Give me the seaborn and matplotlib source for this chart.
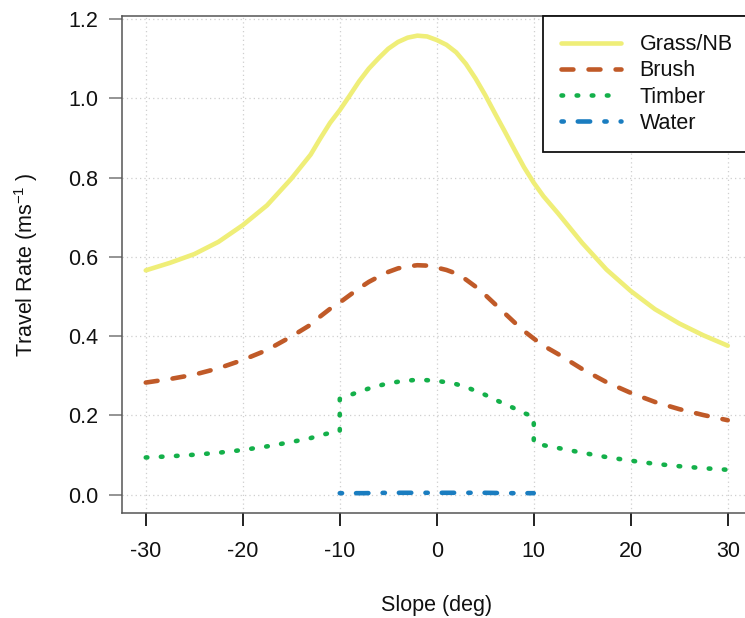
import matplotlib
matplotlib.use("Agg")
import matplotlib.pyplot as plt
import numpy as np
import pandas as pd
import seaborn as sns

# Slope (deg) sample points and travel rate (m/s) for each land cover class
slope = [-30, -27.5, -25, -22.5, -20, -17.5, -15, -13, -12, -11, -10, -9, -8, -7, -6, -5,
         -4, -3, -2, -1, 0, 1, 2, 3, 4, 5, 6, 7, 8, 9, 10, 11, 12.5, 15, 17.5, 20,
         22.5, 25, 27.5, 30]

grass = [0.566, 0.585, 0.607, 0.638, 0.680, 0.730, 0.797, 0.858, 0.899, 0.938, 0.970, 1.006,
         1.043, 1.075, 1.101, 1.125, 1.142, 1.153, 1.158, 1.156, 1.147, 1.135, 1.116, 1.087,
         1.050, 1.008, 0.962, 0.917, 0.871, 0.826, 0.787, 0.753, 0.710, 0.635, 0.568, 0.514,
         0.468, 0.432, 0.402, 0.376]

brush = [0.283, 0.292, 0.303, 0.319, 0.340, 0.365, 0.399, 0.429, 0.450, 0.469, 0.485, 0.503,
         0.521, 0.537, 0.550, 0.562, 0.571, 0.576, 0.579, 0.578, 0.573, 0.567, 0.558, 0.543,
         0.525, 0.504, 0.481, 0.458, 0.435, 0.413, 0.394, 0.376, 0.355, 0.317, 0.284, 0.257,
         0.234, 0.216, 0.201, 0.188]

# Timber has a step change at +/-10 deg, so those slopes appear twice
timber_slope = [-30, -27.5, -25, -22.5, -20, -17.5, -15, -13, -12, -11, -10,
                -10, -9, -8, -7, -6, -5, -4, -3, -2, -1, 0, 1, 2, 3, 4, 5, 6, 7, 8, 9, 10,
                10, 11, 12.5, 15, 17.5, 20, 22.5, 25, 27.5, 30]
timber = [0.094, 0.097, 0.101, 0.106, 0.113, 0.122, 0.133, 0.143, 0.150, 0.156, 0.161,
          0.242, 0.251, 0.260, 0.268, 0.275, 0.281, 0.285, 0.288, 0.290, 0.289, 0.287,
          0.284, 0.279, 0.272, 0.262, 0.252, 0.240, 0.229, 0.218, 0.206, 0.197,
          0.131, 0.125, 0.118, 0.106, 0.095, 0.086, 0.078, 0.072, 0.067, 0.063]

water_slope = [-10, -7.5, -5, -2.5, 0, 2.5, 5, 7.5, 10]
water = [0.004, 0.004, 0.005, 0.005, 0.005, 0.005, 0.005, 0.004, 0.004]

x_ticks = [-30, -20, -10, 0, 10, 20, 30]
y_ticks = [0.0, 0.2, 0.4, 0.6, 0.8, 1.0, 1.2]

sns.set_style("white")
plt.rcParams["font.family"] = ["Liberation Sans", "DejaVu Sans"]
plt.rcParams["mathtext.fontset"] = "custom"
plt.rcParams["mathtext.rm"] = "Liberation Sans"
plt.rcParams["mathtext.it"] = "Liberation Sans"
plt.rcParams["mathtext.default"] = "regular"

FS = 15.5
LW = 3.3

fig = plt.figure(figsize=(7.45, 6.18), dpi=100)
ax = fig.add_axes([0.1644, 0.1699, 1.0081 - 0.1644, 0.9741 - 0.1699])

series = [
    ("Grass/NB", slope, grass, "#EFEE78", "-"),
    ("Brush", slope, brush, "#C05A28", (0, (2.6, 3.3))),
    ("Timber", timber_slope, timber, "#14B04A", (0, (0.35, 2.95))),
    ("Water", water_slope, water, "#1A7DC0", (0, (0.5, 3.05, 2.7, 3.1))),
]

for name, xs, ys, col, ls in series:
    df = pd.DataFrame({"slope": xs, "rate": ys})
    sns.lineplot(data=df, x="slope", y="rate", estimator=None, sort=False,
                 color=col, label=name, ax=ax, zorder=3)
    line = ax.lines[-1]
    line.set_linewidth(LW)
    line.set_linestyle(ls)
    line.set_dash_capstyle("round")
    line.set_solid_capstyle("round")

ax.set_xlim(-32.4, 32.4)
ax.set_ylim(-0.046, 1.2076)
ax.set_xticks(x_ticks)
ax.set_xticklabels([f"{t:d}" for t in x_ticks])
ax.set_yticks(y_ticks)
ax.set_yticklabels([f"{t:.1f}" for t in y_ticks])

ax.grid(True, color="#CFCFCF", linestyle=(0, (1, 2.5)), linewidth=0.9, zorder=0)
ax.set_axisbelow(True)

for side in ["left", "bottom", "top", "right"]:
    ax.spines[side].set_color("#555555")
    ax.spines[side].set_linewidth(1.1)

ax.tick_params(axis="x", direction="out", length=9, width=1.3, color="#111111",
               labelsize=FS, pad=11, labelcolor="#111111")
ax.tick_params(axis="y", direction="out", length=9.4, width=1.1, color="#777777",
               labelsize=FS, pad=8.3, labelcolor="#111111")
ax.xaxis.set_ticks_position("bottom")
ax.yaxis.set_ticks_position("left")

ax.set_xlabel("Slope (deg)", fontsize=FS, color="#111111")
ax.set_ylabel("Travel Rate (ms$^{-1}$ )", fontsize=FS, color="#111111")
ax.xaxis.set_label_coords(0.5, -0.165)
ax.yaxis.set_label_coords(-0.132, 0.5)

leg = ax.legend(loc="upper right", bbox_to_anchor=(1.0, 1.0), borderaxespad=0,
                fontsize=FS, frameon=True, fancybox=False, shadow=False,
                handlelength=2.75, handletextpad=0.88, borderpad=0.85,
                labelspacing=0.24, framealpha=1.0)
leg.get_frame().set_edgecolor("#111111")
leg.get_frame().set_linewidth(1.3)
for t in leg.get_texts():
    t.set_color("#111111")

fig.savefig("out.png", dpi=100)
